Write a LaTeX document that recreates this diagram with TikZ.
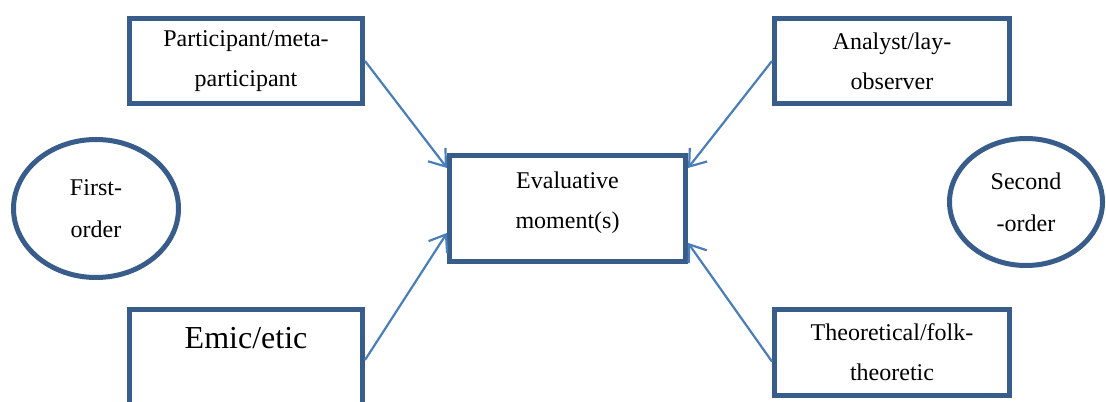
\documentclass[tikz,border=0pt]{standalone}
\usepackage{fontspec}
\setmainfont{Liberation Serif}
\usetikzlibrary{arrows.meta, calc, shapes.geometric}
\definecolor{boxblue}{RGB}{56,93,138}
\definecolor{arrowblue}{RGB}{74,126,187}

\begin{document}
\begin{tikzpicture}[
    x=0.5pt, y=-0.5pt,
    role/.style={rectangle, draw=boxblue, fill=white, line width=2.5pt, minimum width=#1, align=center, font=\fontsize{12}{20}\selectfont, inner sep=0pt},
    order/.style={ellipse, draw=boxblue, fill=white, line width=2.5pt, align=center, font=\fontsize{12}{21}\selectfont, inner sep=0pt},
    arrow/.style={-{Straight Barb[length=7.5pt, width=11pt]}, arrowblue, line width=1.1pt}
]
\useasboundingbox (0,0) rectangle (1106,401);
\clip (0,0) rectangle (1106,401);

% Roles
\node[role=116.5pt, minimum height=42.5pt] (partic) at (246,61) {Participant/meta-\\participant};
\node[role=117.5pt, minimum height=42.5pt] (analyst) at (892,61) {Analyst/lay-\\observer};
\node[role=116.5pt, minimum height=50.5pt, text depth=22pt, font=\fontsize{16}{20}\selectfont] (emic) at (246,360) {Emic/etic};
\node[role=117.5pt, minimum height=43pt] (theory) at (892,352.5) {Theoretical/folk-\\theoretic};

% Evaluative moment
\node[role=118pt, minimum height=53pt, text depth=8.5pt] (evalbox) at (567.5,208.5) {Evaluative\\moment(s)};

% Orders
\node[order, minimum width=82.5pt, minimum height=69pt] (firstord) at (96,208.5) {First-\\order};
\node[order, minimum width=76.5pt, minimum height=63.5pt] (secondord) at (1026,202) {Second\\-order};

% Arrows into the evaluative moment
\draw[arrow] (partic.east) -- ($(evalbox.north west)!0.135!(evalbox.south west)$);
\draw[arrow] (emic.east) -- ($(evalbox.north west)!0.72!(evalbox.south west)$);
\draw[arrow] (analyst.west) -- ($(evalbox.north east)!0.135!(evalbox.south east)$);
\draw[arrow] ($(theory.north west)!0.6!(theory.south west)$) -- ($(evalbox.north east)!0.81!(evalbox.south east)$);

\end{tikzpicture}
\end{document}
